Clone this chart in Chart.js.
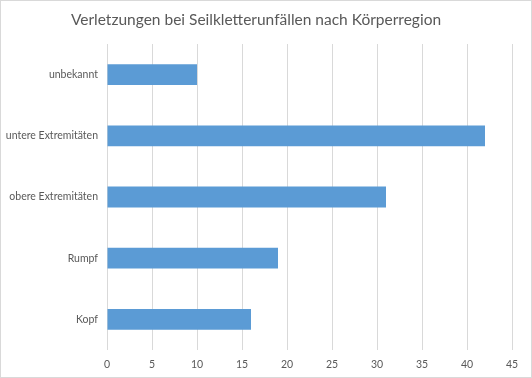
<!DOCTYPE html>
<html>
<head>
<meta charset="utf-8">
<script src="https://cdn.jsdelivr.net/npm/chart.js@4"></script>
<style>
html,body{margin:0;padding:0;background:#fff;}
#wrap{width:532px;height:378px;position:relative;}
</style>
</head>
<body>
<div id="wrap"><canvas id="c" width="532" height="378"></canvas></div>
<script>
const titleText = 'Verletzungen bei Seilkletterunfällen nach Körperregion';
const categories = ['unbekannt', 'untere Extremitäten', 'obere Extremitäten', 'Rumpf', 'Kopf'];
const values = [10, 42, 31, 19, 16];
const xTicks = [0, 5, 10, 15, 20, 25, 30, 35, 40, 45];

const FONT = 'Lato';
const TXT = '#595959';

const frame = {
  id: 'frame',
  afterDraw(chart) {
    const ctx = chart.ctx;
    ctx.save();
    ctx.strokeStyle = '#d9d9d9';
    ctx.lineWidth = 1;
    ctx.strokeRect(0.5, 0.5, chart.width - 1, chart.height - 1);
    ctx.restore();
  }
};

new Chart(document.getElementById('c'), {
  type: 'bar',
  data: {
    labels: categories,
    datasets: [{
      data: values,
      backgroundColor: '#5b9bd5',
      borderWidth: 0,
      categoryPercentage: 1,
      barPercentage: 0.34
    }]
  },
  options: {
    indexAxis: 'y',
    responsive: false,
    animation: false,
    devicePixelRatio: 1,
    layout: { padding: { left: 0, right: 20, top: 0, bottom: 0 } },
    plugins: {
      legend: { display: false },
      tooltip: { enabled: false },
      title: {
        display: true,
        text: titleText,
        color: TXT,
        font: { family: FONT, size: 15.5, weight: 'normal', lineHeight: 1.2 },
        padding: { top: 11, bottom: 14.4 }
      }
    },
    scales: {
      x: {
        min: 0, max: 45,
        afterBuildTicks(scale) { scale.ticks = xTicks.map(v => ({ value: v })); },
        afterFit(scale) { scale.height = 28; },
        grid: { color: '#d9d9d9', lineWidth: 1, drawTicks: false },
        border: { display: false },
        ticks: { color: TXT, font: { family: FONT, size: 10.5 }, padding: 8 }
      },
      y: {
        afterFit(scale) { scale.width = 107; },
        grid: { display: false, drawTicks: false },
        border: { display: false },
        ticks: { color: TXT, font: { family: FONT, size: 10.5 }, padding: 9 }
      }
    }
  },
  plugins: [frame]
});
</script>
</body>
</html>
